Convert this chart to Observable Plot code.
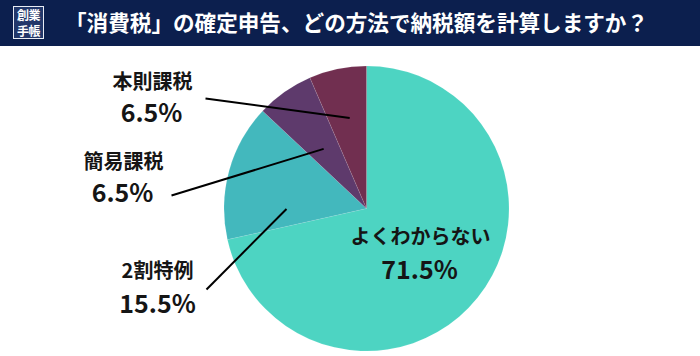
<!DOCTYPE html>
<html><head><meta charset="utf-8">
<script src="https://cdn.jsdelivr.net/npm/d3@7"></script>
<script src="https://cdn.jsdelivr.net/npm/@observablehq/plot@0.6"></script>
<style>
body{margin:0;background:#fff;font-family:"Noto Sans CJK JP","Noto Sans",sans-serif;}
#wrap{width:700px;}
#head{position:relative;width:700px;height:46px;background:#0c1f4e;color:#fff;}
#logo{position:absolute;left:13px;top:6px;width:29px;height:31px;border:1px solid #e8ecf4;background:#22376a;text-align:center;overflow:hidden;}
#logo div{height:15.5px;line-height:15.5px;font-size:12px;font-weight:700;letter-spacing:-0.5px;overflow:hidden;}
#title{position:absolute;left:65px;top:0;height:46px;line-height:44px;font-size:21.6px;font-weight:700;white-space:nowrap;}
</style></head>
<body><div id="wrap"><div id="head"><div id="logo"><div>創業</div><div>手帳</div></div><div id="title">「消費税」の確定申告、どの方法で納税額を計算しますか？</div></div><div id="chart"></div></div>
<script>
// data
const categories = ["よくわからない", "2割特例", "簡易課税", "本則課税"];
const shares = [71.5, 15.5, 6.5, 6.5];
const pctLabels = ["71.5%", "15.5%", "6.5%", "6.5%"];
const colors = ["#4dd4c2", "#43b8bd", "#5e3a6c", "#712f50"];

// layout
const W = 700, H = 310;
const cx = 366.5, cy = 162.5, R = 142.5;
const nameX = [420, 157, 123, 152];
const nameY = [191, 225, 116, 36];
const pctX = [419, 157, 122, 151];
const pctY = [224, 258, 147, 67];
const leaderOuterX = [null, 206, 171, 205];
const leaderOuterY = [null, 243, 149, 52];
const leaderT = [null, 0.226, 0.47, 0.54];   // position within slice angle
const leaderR = [null, 0.565, 0.52, 0.65];   // fraction of radius

const pie = d3.pie().sort(null).value(d => d.value);
const arcsData = pie(categories.map((c, i) => ({name: c, value: shares[i], color: colors[i]})));

const leaders = arcsData.map((a, i) => {
  if (leaderT[i] == null) return null;
  const ang = a.startAngle + leaderT[i] * (a.endAngle - a.startAngle);
  return {
    x1: leaderOuterX[i], y1: leaderOuterY[i],
    x2: cx + Math.sin(ang) * R * leaderR[i],
    y2: cy - Math.cos(ang) * R * leaderR[i]
  };
}).filter(d => d);

const labels = categories.map((c, i) => ({name: c, pct: pctLabels[i], nx: nameX[i], ny: nameY[i], px: pctX[i], py: pctY[i]}));

const pieMark = (index, scales) => {
  const sx = scales && scales.x ? scales.x : (v => v);
  const sy = scales && scales.y ? scales.y : (v => v);
  const g = d3.create("svg:g").attr("transform", `translate(${sx(cx)},${sy(cy)})`);
  const arc = d3.arc().innerRadius(0).outerRadius(sx(cx + R) - sx(cx));
  g.selectAll("path").data(arcsData).join("path")
    .attr("d", arc)
    .attr("fill", d => d.data.color)
    .attr("stroke", "rgba(255,255,255,0.12)")
    .attr("stroke-width", 0.8);
  return g.node();
};

const chart = Plot.plot({
  width: W, height: H,
  margin: 0,
  x: {domain: [0, W], range: [0, W], axis: null},
  y: {domain: [0, H], range: [0, H], axis: null},
  style: {background: "#fff", fontFamily: "'Noto Sans CJK JP','Noto Sans',sans-serif"},
  marks: [
    pieMark,
    Plot.link(leaders, {x1: "x1", y1: "y1", x2: "x2", y2: "y2", stroke: "#000", strokeWidth: 2}),
    Plot.text(labels, {x: "nx", y: "ny", text: "name", fontSize: 20, fontWeight: 700, fill: "#151515"}),
    Plot.text(labels, {x: "px", y: "py", text: "pct", fontSize: 25, fontWeight: 700, fill: "#151515"})
  ]
});
document.getElementById("chart").appendChild(chart);
</script></body></html>
